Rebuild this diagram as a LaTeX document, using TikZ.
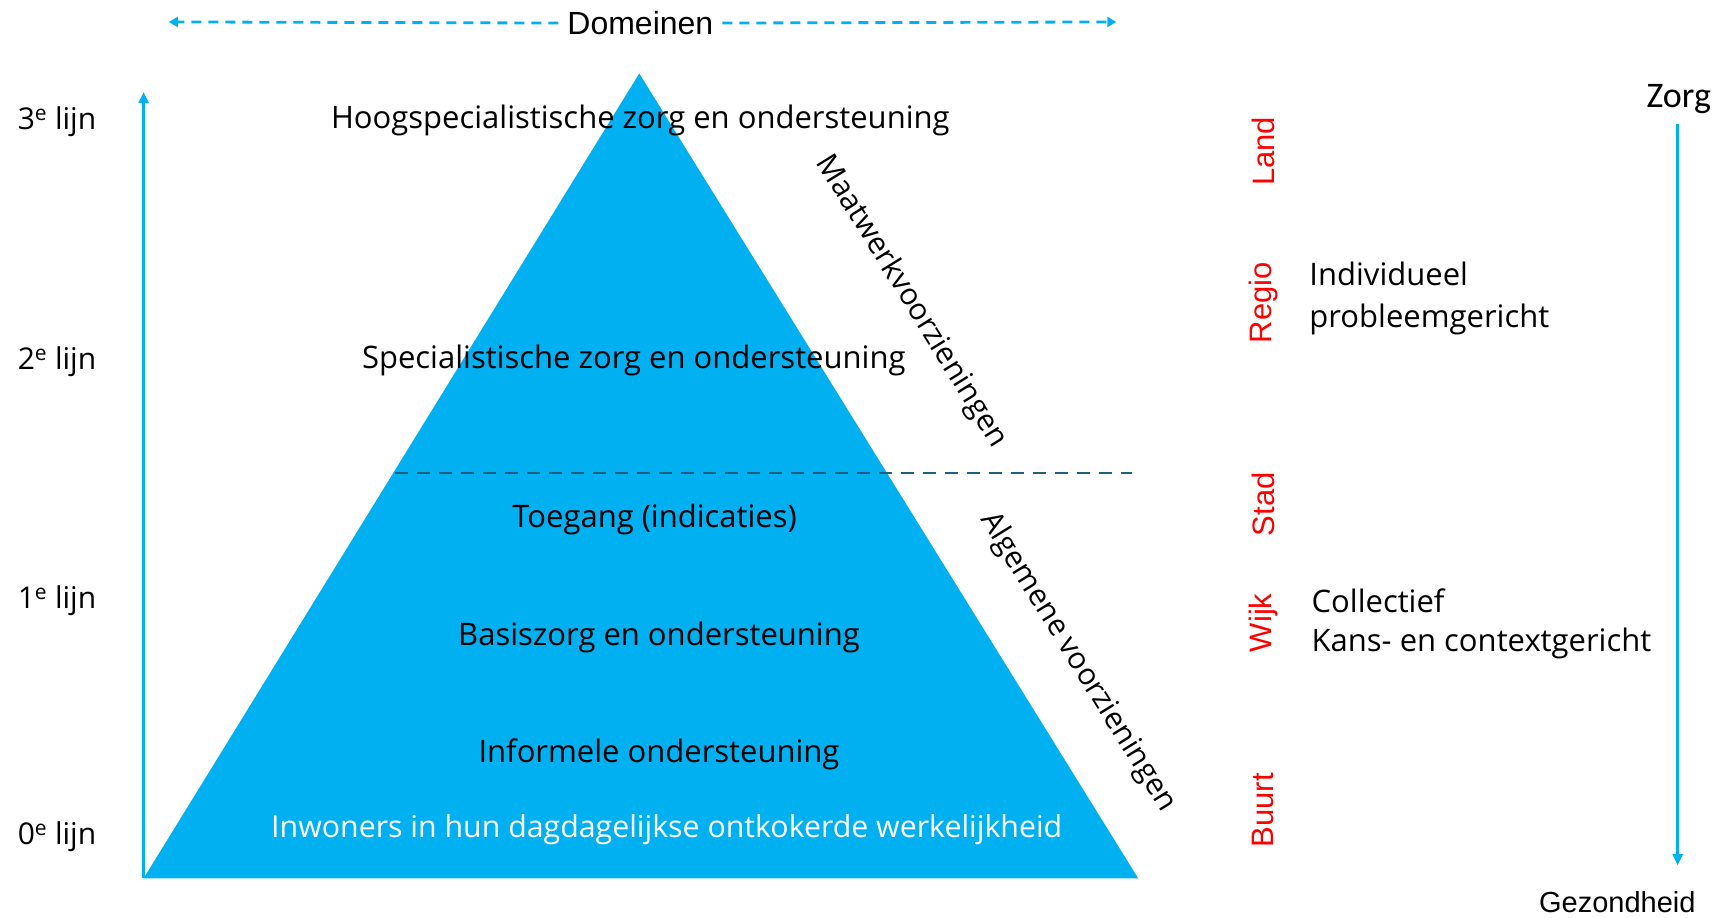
\documentclass[tikz,border=0pt]{standalone}
\usepackage{fontspec}
\setmainfont{Open Sans}
\newfontfamily\arialf{Liberation Sans}
\newfontfamily\calif{Carlito}
\usetikzlibrary{arrows.meta}
\definecolor{pblue}{HTML}{00B0F0}
\definecolor{dteal}{HTML}{1F5F80}
\tikzset{
  body/.style={font=\fontsize{31}{36}\selectfont, inner sep=0pt, anchor=center},
  axlab/.style={font=\fontsize{30}{36}\selectfont, inner sep=0pt},
  scalelab/.style={font=\arialf\fontsize{31}{36}\selectfont, text=red, rotate=90, inner sep=0pt},
  diag/.style={font=\fontsize{30}{36}\selectfont, rotate=-58.2, inner sep=0pt},
  ax/.style={pblue, line width=2.5pt, -{Triangle[length=11pt,width=10pt]}},
  dom/.style={pblue, line width=2.8pt, dash pattern=on 10pt off 7pt, -{Triangle[length=9pt,width=10pt]}},
}
\begin{document}
\begin{tikzpicture}[x=1.0965pt,y=-1.0965pt]
\useasboundingbox (0,0) rectangle (1568.6,836.3);
% triangle
\coordinate (apex) at (583,67);
\coordinate (bl) at (131,801);
\coordinate (br) at (1038,801);
\fill[pblue] (apex) -- (br) -- (bl) -- cycle;
% dashed separator
\coordinate (dl) at (360,431);
\coordinate (dr) at (1032,431);
\draw[dteal, line width=2.2pt, dash pattern=on 13pt off 9pt] (dl) -- (dr);
% domeinen
\node[font=\arialf\fontsize{32}{36}\selectfont, inner sep=0pt] (dom) at (584,21) {Domeinen};
\coordinate (domL) at (154,20);
\coordinate (domR) at (1018,20);
\draw[dom] (dom.west) ++(-8,0) coordinate (dws) -- (domL);
\draw[dom] (dom.east) ++(8,0) coordinate (des) -- (domR);
% left axis
\coordinate (axb) at (131,801);
\coordinate (axt) at (131,84);
\draw[ax] (axb) -- (axt);
\node[axlab] (l3) at (52,111) {3\textsuperscript{e} lijn};
\node[axlab] (l2) at (52,330) {2\textsuperscript{e} lijn};
\node[axlab] (l1) at (52,548) {1\textsuperscript{e} lijn};
\node[axlab] (l0) at (52,763) {0\textsuperscript{e} lijn};
% texts in triangle
\node[body] (t1) at (584,110) {Hoogspecialistische zorg en ondersteuning};
\node[body] (t2) at (578,329) {Specialistische zorg en ondersteuning};
\node[body] (t3) at (597,474) {Toegang (indicaties)};
\node[body] (t4) at (601,581) {Basiszorg en ondersteuning};
\node[body] (t5) at (601,688) {Informele ondersteuning};
\node[body, text=white, font=\fontsize{30.3}{36}\selectfont] (t6) at (608,757) {Inwoners in hun dagdagelijkse ontkokerde werkelijkheid};
% diagonal labels
\node[diag] (mw) at (831,275) {Maatwerkvoorzieningen};
\node[diag] (av) at (983,604) {Algemene voorzieningen};
% scale labels
\node[scalelab] (land) at (1152,138) {Land};
\node[scalelab] (regio) at (1152,276) {Regio};
\node[scalelab] (stad) at (1152,460) {Stad};
\node[scalelab] (wijk) at (1152,568) {Wijk};
\node[scalelab] (buurt) at (1152,739) {Buurt};
% right texts
\node[axlab, anchor=west, align=left, font=\fontsize{31}{41.5}\selectfont] (ind) at (1194,272) {Individueel\\probleemgericht};
\node[axlab, anchor=west, align=left, font=\fontsize{31}{39.5}\selectfont] (col) at (1196,569) {Collectief\\Kans- en contextgericht};
% right axis
\node[font=\calif\fontsize{36}{40}\selectfont, inner sep=0pt] (zorg) at (1531,90) {Zorg};
\node[font=\arialf\fontsize{29}{34}\selectfont, inner sep=0pt] (gez) at (1475,823) {Gezondheid};
\coordinate (rt) at (1530,113);
\coordinate (rb) at (1530,789);
\draw[ax] (rt) -- (rb);
\end{tikzpicture}
\end{document}
